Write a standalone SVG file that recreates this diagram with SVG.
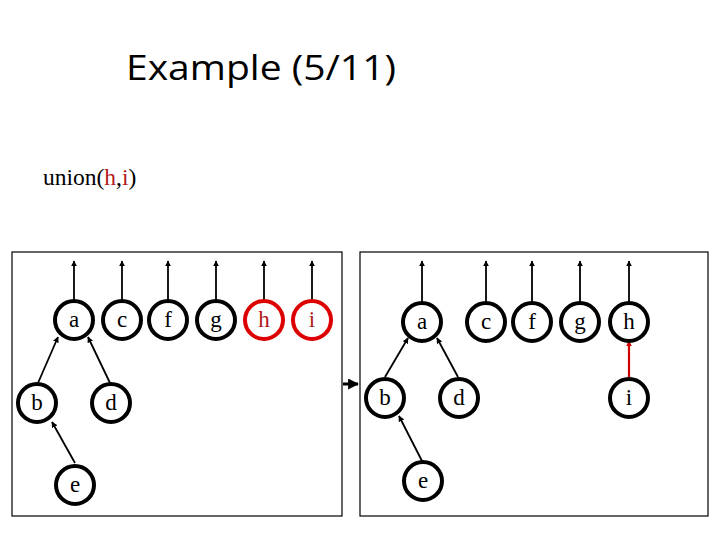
<svg xmlns="http://www.w3.org/2000/svg" width="720" height="540" viewBox="0 0 720 540">
<defs>
<marker id="ah" viewBox="0 0 10 10" refX="9" refY="5" markerWidth="6" markerHeight="6" markerUnits="userSpaceOnUse" orient="auto"><path d="M0,0 L10,5 L0,10 z" fill="#000"/></marker>
<marker id="ahr" viewBox="0 0 10 10" refX="9" refY="5" markerWidth="6" markerHeight="6" markerUnits="userSpaceOnUse" orient="auto"><path d="M0,0 L10,5 L0,10 z" fill="#d00000"/></marker>
<marker id="ahb" viewBox="0 0 10 10" refX="9" refY="5" markerWidth="11" markerHeight="11" markerUnits="userSpaceOnUse" orient="auto"><path d="M0,0 L10,5 L0,10 z" fill="#000"/></marker>
</defs>
<style>
.box{fill:none;stroke:#000;stroke-width:1.2}
.n circle{fill:#fff;stroke:#000;stroke-width:4}
.n text{font-family:"Liberation Serif",serif;font-size:23px;text-anchor:middle;fill:#000}
.r circle{stroke:#dd0000}
.r text{fill:#b01818}
.e{stroke:#000;stroke-width:1.8;fill:none;marker-end:url(#ah)}
.er{stroke:#d00000;stroke-width:2.2;fill:none;marker-end:url(#ahr)}
</style>
<rect width="720" height="540" fill="#fff"/>
<text x="126" y="80" font-family="Open Sans, Liberation Sans, sans-serif" font-size="35" textLength="270" lengthAdjust="spacingAndGlyphs">Example (5/11)</text>
<text x="43" y="185" font-family="Liberation Serif, serif" font-size="23.5">union(<tspan fill="#b01818">h</tspan>,<tspan fill="#b01818">i</tspan>)</text>
<rect class="box" x="12" y="252" width="330" height="264"/>
<rect class="box" x="360" y="252" width="348" height="264"/>
<g id="connectors">
<line class="e" x1="74" y1="300" x2="74" y2="261"/>
<line class="e" x1="122" y1="300" x2="122" y2="261"/>
<line class="e" x1="168" y1="300" x2="168" y2="261"/>
<line class="e" x1="216" y1="300" x2="216" y2="261"/>
<line class="e" x1="264" y1="300" x2="264" y2="261"/>
<line class="e" x1="312" y1="300" x2="312" y2="261"/>
<line class="e" x1="38" y1="383" x2="58" y2="337"/>
<line class="e" x1="110" y1="383" x2="88" y2="337"/>
<line class="e" x1="75" y1="463" x2="52" y2="422"/>
<line stroke="#000" stroke-width="3" x1="343" y1="384" x2="358" y2="384" marker-end="url(#ahb)"/>
<line class="e" x1="422" y1="302" x2="422" y2="261"/>
<line class="e" x1="486" y1="302" x2="486" y2="261"/>
<line class="e" x1="532" y1="302" x2="532" y2="261"/>
<line class="e" x1="580" y1="302" x2="580" y2="261"/>
<line class="e" x1="629" y1="302" x2="629" y2="261"/>
<line class="e" x1="385" y1="377" x2="408" y2="338"/>
<line class="e" x1="458" y1="377" x2="437" y2="338"/>
<line class="e" x1="422" y1="461" x2="399" y2="416"/>
<line class="er" x1="629" y1="378" x2="629" y2="341"/>
</g>
<g id="L-a" class="n"><circle cx="74" cy="320" r="19"/><text x="74" y="327">a</text></g>
<g id="L-c" class="n"><circle cx="122" cy="320" r="19"/><text x="122" y="327">c</text></g>
<g id="L-f" class="n"><circle cx="168" cy="320" r="19"/><text x="168" y="327">f</text></g>
<g id="L-g" class="n"><circle cx="216" cy="320" r="19"/><text x="216" y="327">g</text></g>
<g id="L-h" class="n r"><circle cx="264" cy="320" r="19"/><text x="264" y="327">h</text></g>
<g id="L-i" class="n r"><circle cx="312" cy="320" r="19"/><text x="312" y="327">i</text></g>
<g id="L-b" class="n"><circle cx="37" cy="403" r="19"/><text x="37" y="410">b</text></g>
<g id="L-d" class="n"><circle cx="111" cy="403" r="19"/><text x="111" y="410">d</text></g>
<g id="L-e" class="n"><circle cx="75" cy="485" r="19"/><text x="75" y="492">e</text></g>
<g id="R-a" class="n"><circle cx="422" cy="322" r="19"/><text x="422" y="329">a</text></g>
<g id="R-c" class="n"><circle cx="486" cy="322" r="19"/><text x="486" y="329">c</text></g>
<g id="R-f" class="n"><circle cx="532" cy="322" r="19"/><text x="532" y="329">f</text></g>
<g id="R-g" class="n"><circle cx="580" cy="322" r="19"/><text x="580" y="329">g</text></g>
<g id="R-h" class="n"><circle cx="629" cy="322" r="19"/><text x="629" y="329">h</text></g>
<g id="R-i" class="n"><circle cx="629" cy="398" r="19"/><text x="629" y="405">i</text></g>
<g id="R-b" class="n"><circle cx="385" cy="398" r="19"/><text x="385" y="405">b</text></g>
<g id="R-d" class="n"><circle cx="459" cy="398" r="19"/><text x="459" y="405">d</text></g>
<g id="R-e" class="n"><circle cx="423" cy="481" r="19"/><text x="423" y="488">e</text></g>
</svg>
